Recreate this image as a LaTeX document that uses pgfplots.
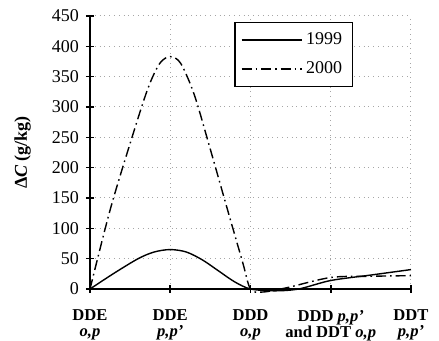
\documentclass[border=0pt]{standalone}
\usepackage{fontspec}
\setmainfont{Liberation Serif}
\usepackage{pgfplots}
\pgfplotsset{compat=1.18}
\begin{document}
\begin{tikzpicture}
\begin{axis}[
 scale only axis, width=160.5pt, height=136.5pt,
 xmin=0, xmax=4, ymin=0, ymax=450,
 axis x line*=bottom, axis y line*=left,
 axis line style={line width=0.8pt},
 xtick={0,1,2,3,4}, ytick={0,50,...,450},
 xticklabels={{DDE\\\textit{o,p}},{DDE\\\textit{p,p'}},{DDD\\\textit{o,p}},{DDD \textit{p,p'}\\and DDT \textit{o,p}},{DDT\\\textit{p,p'}}},
 xticklabel style={align=center, font=\fontsize{8.3}{8}\selectfont\bfseries, yshift=-5pt},
 yticklabel style={font=\fontsize{9}{9}\selectfont},
 /pgf/number format/assume math mode=true,
 grid=major, grid style={gray!70, dotted, line width=0.5pt},
 tick align=center, major tick length=4pt,
 tick style={black, line width=0.8pt},
 ylabel={\bfseries Δ\textit{C} (g/kg)},
 ylabel style={font=\fontsize{9}{9}\selectfont, at={(axis description cs:-0.21,0.5)}, anchor=center},
 clip=false,
 legend style={at={(0.449,0.978)}, anchor=north west, draw=black, line width=0.7pt,
   font=\fontsize{9}{9}\selectfont, row sep=3pt, inner sep=3pt},
 legend image code/.code={\draw[#1] (0pt,0pt) -- (30pt,0pt);},
]
\addplot[black, line width=0.7pt, smooth, tension=0.5] coordinates {
 (0,0) (0.3,26) (0.6,50) (0.8,61) (1,65) (1.2,61) (1.4,48) (1.6,30) (1.8,12) (2,0)
 (2.3,-3) (2.6,0) (3,14) (3.5,23) (4,32)};
\addlegendentry{1999}
\addplot[black, line width=0.7pt, smooth, tension=0.5, dash pattern=on 5pt off 2pt on 0.8pt off 2pt] coordinates {
 (0,0) (0.25,130) (0.5,240) (0.72,330) (0.87,372) (1,383) (1.13,372) (1.3,320)
 (1.5,230) (1.7,137) (1.9,45) (2,0) (2.15,-5) (2.45,2) (3,19) (3.5,21) (4,22)};
\addlegendentry{2000}
\end{axis}
\pgfresetboundingbox
\path (current axis.south west) ++(-45pt,-26pt) coordinate (bl);
\path (current axis.north east) ++(14pt,8pt) coordinate (tr);
\path[use as bounding box] (bl) rectangle (tr);
\end{tikzpicture}
\end{document}
